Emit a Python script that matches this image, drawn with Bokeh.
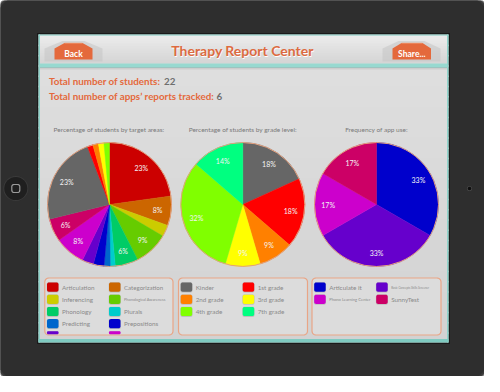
import numpy as np
from bokeh.plotting import figure
from bokeh.models import ColumnDataSource, Range1d
from bokeh.core.properties import value
from bokeh.embed import file_html
from bokeh.resources import INLINE

# ---------------- data ----------------
header_title = "Therapy Report Center"
back_label = "Back"
share_label = "Share..."
summary_labels = ["Total number of students:", "Total number of apps\u2019 reports tracked:"]
summary_values = ["22", "6"]
chart_titles = ["Percentage of students by target areas:",
                "Percentage of students by grade level:",
                "Frequency of app use:"]

target_areas = ["Articulation", "Categorization", "Inferencing", "Phonological Awareness",
                "Phonology", "Plurals", "Predicting", "Prepositions", "Pronouns",
                "Social Skills", "Syntax", "Vocabulary", "Voice", "WH Questions",
                "Word Finding", "Writing"]
target_pct = [22.8, 7.7, 3.0, 9.0, 6.0, 1.3, 1.6, 2.8, 3.0, 8.0, 6.0, 23.0, 1.45, 1.45, 1.45, 1.45]
target_colors = ["#cc0000", "#cc6600", "#cccc00", "#66cc00", "#00cc66", "#00cccc", "#0066cc",
                 "#0000cc", "#6600cc", "#cc00cc", "#cc0066", "#666666", "#ff0000", "#ff8000",
                 "#ffff00", "#80ff00"]

grade_levels = ["Kinder", "1st grade", "2nd grade", "3rd grade", "4th grade", "7th grade"]
grade_counts = [4, 4, 2, 2, 7, 3]
grade_colors = ["#666666", "#ff0000", "#ff8000", "#ffff00", "#80ff00", "#00ff80"]

apps = ["Articulate it", "Basic Concepts Skills Screener", "Phono Learning Center", "SunnyTest"]
app_counts = [2, 2, 1, 1]
app_colors = ["#0000cc", "#6600cc", "#cc00cc", "#cc0066"]

# ---------------- helpers ----------------
FONT = "Lato"
ORANGE = "#e4693c"


def fy(y):
    return 392 - y


p = figure(width=484, height=376, x_range=Range1d(8, 492), y_range=Range1d(8, 384),
           output_backend="svg", toolbar_location=None, x_axis_location=None,
           y_axis_location=None, min_border=0, outline_line_color=None,
           background_fill_color="white", border_fill_color="white")
p.grid.visible = False


def rrect(x0, y0, x1, y1, r, n=10):
    xs, ys = [], []
    corners = [(x1 - r, y0 + r, -90, 0), (x1 - r, y1 - r, 0, 90),
               (x0 + r, y1 - r, 90, 180), (x0 + r, y0 + r, 180, 270)]
    for cx, cy, a0, a1 in corners:
        for a in np.linspace(np.radians(a0), np.radians(a1), n):
            xs.append(cx + r * np.cos(a))
            ys.append(fy(cy + r * np.sin(a)))
    return xs, ys


def draw_rrect(x0, y0, x1, y1, r, fill, line=None, lw=1, alpha=1.0):
    xs, ys = rrect(x0, y0, x1, y1, r)
    p.patch(xs, ys, fill_color=fill, fill_alpha=alpha, line_color=line,
            line_width=lw)


def hexrgb(c):
    c = c.lstrip("#")
    return [int(c[i:i + 2], 16) for i in (0, 2, 4)]


def mix(c0, c1, t):
    a, b = hexrgb(c0), hexrgb(c1)
    return "#%02x%02x%02x" % tuple(int(round(a[i] + (b[i] - a[i]) * t)) for i in range(3))


def vgrad(x0, x1, y0, y1, c0, c1, n=24):
    edges = np.linspace(y0, y1, n + 1)
    cols = [mix(c0, c1, (i + 0.5) / n) for i in range(n)]
    bots = [min(v + 1.5, y1) for v in edges[1:]]
    p.quad(left=x0, right=x1, top=[fy(v) for v in edges[:-1]],
           bottom=[fy(v) for v in bots], fill_color=cols, line_color=None)


def label(x, y, t, size, color, align="left", bold=False, font=FONT):
    p.text(x=[x], y=[fy(y)], text=[t], text_font=value(font),
           text_font_size=value(f"{size}px"), text_color=color, text_align=align,
           text_baseline="middle", text_font_style="bold" if bold else "normal")


# ---------------- iPad body ----------------
draw_rrect(0, 0, 500, 392, 30, "#6a6a6a")
draw_rrect(1.2, 1.2, 498.8, 390.8, 29, "#3a3a3a")
draw_rrect(3, 3, 497, 389, 27, "#2e2e2e")

# home button
p.circle(x=23.3, y=fy(196), radius=12.5, fill_color="#3a3a3a", line_color=None)
p.circle(x=23.3, y=fy(196), radius=11.5, fill_color="#1f1f1f", line_color=None)
hx, hy = rrect(19.3, 192, 27.3, 200, 2.2)
p.patch(hx, hy, fill_color=None, line_color="#9a9a9a", line_width=1.2)
# camera
p.circle(x=477, y=fy(196), radius=2.6, fill_color="#444444", line_color=None)
p.circle(x=477, y=fy(196), radius=1.8, fill_color="#0e0e0e", line_color=None)

# ---------------- screen ----------------
p.quad(left=44.5, right=457.5, top=fy(40.5), bottom=fy(351.5), fill_color="#1a1a1a",
       line_color=None)
vgrad(46, 456, 42, 350, "#e0e0e0", "#d2d2d2", n=30)
# teal borders
p.quad(left=46, right=456, top=fy(42), bottom=fy(43.3), fill_color="#8fd4cb", line_color=None)
p.quad(left=46, right=47.5, top=fy(42), bottom=fy(350), fill_color="#8fd4cb", line_color=None)
p.quad(left=454.5, right=456, top=fy(42), bottom=fy(350), fill_color="#8fd4cb", line_color=None)
p.quad(left=46, right=456, top=fy(346.5), bottom=fy(350), fill_color="#7fcbc1", line_color=None)

# header
vgrad(47.5, 454.5, 43.3, 71, "#ececec", "#d4d4d4", n=16)
p.quad(left=47.5, right=454.5, top=fy(71), bottom=fy(74.5), fill_color="#97d9d0", line_color=None)
p.quad(left=47.5, right=454.5, top=fy(74.5), bottom=fy(75.3), fill_color="#6fb7ae", line_color=None)
p.quad(left=47.5, right=454.5, top=fy(75.3), bottom=fy(77), fill_color="#cdcdcd", line_color=None)


def house(x0, x1, r0, r1, ytop, yshoulder, ybottom, fill, alpha=1.0):
    xs = [x0, x0, r0, r1, x1, x1]
    ys = [ybottom, yshoulder, ytop, ytop, yshoulder, ybottom]
    p.patch(xs, [fy(v) for v in ys], fill_color=fill, fill_alpha=alpha, line_color=None)


# buttons (shadow + body)
house(52, 110, 70, 92, 48.5, 56, 69, "#c4c4c4", 0.55)
house(62, 100, 72, 90, 50.5, 56, 67, ORANGE)
p.line([72, 90], [fy(50.7), fy(50.7)], line_color="#f19a74", line_width=0.8)
label(81, 61.5, back_label, 8.5, "#ffffff", align="center", bold=True)

house(390, 448, 406, 432, 48.5, 56, 69, "#c4c4c4", 0.55)
house(400, 438.5, 409, 430, 50.5, 56, 67, ORANGE)
p.line([409, 430], [fy(50.7), fy(50.7)], line_color="#f19a74", line_width=0.8)
label(419.3, 61.5, share_label, 8.5, "#ffffff", align="center", bold=True)

# title
label(250.5, 58.8, header_title, 14, "#ffffff", align="center", bold=True)
label(250, 58.3, header_title, 14, "#dd6a40", align="center", bold=True)

# summary lines
label(56.5, 88.5, summary_labels[0], 9.8, ORANGE, bold=True)
label(171.5, 88.5, summary_values[0], 9.8, "#6e6e6e", bold=True)
label(56.5, 103.8, summary_labels[1], 9.8, ORANGE, bold=True)
label(224.0, 103.8, summary_values[1], 9.8, "#6e6e6e", bold=True)

# chart titles
title_x = [116.5, 250.3, 384]
for tx, tt in zip(title_x, chart_titles):
    label(tx, 136.5, tt, 6.5, "#7a7a7a", align="center")


# ---------------- pies ----------------
def pie(cx, cy, r, vals, colors, show_min):
    vals = np.asarray(vals, dtype=float)
    frac = vals / vals.sum()
    cum = np.concatenate([[0.0], np.cumsum(frac)])
    start = np.pi / 2 - 2 * np.pi * cum[:-1]
    end = np.pi / 2 - 2 * np.pi * cum[1:]
    src = ColumnDataSource(dict(start=start, end=end, color=colors))
    p.wedge(x=cx, y=fy(cy), radius=r, start_angle="start", end_angle="end",
            direction="clock", fill_color="color", line_color="color", line_width=0.4,
            source=src)
    p.circle(x=cx, y=fy(cy), radius=r, fill_color=None, line_color="#e3a07e", line_width=1)
    mid = np.pi / 2 - np.pi * (cum[:-1] + cum[1:])
    pct = np.round(frac * 100).astype(int)
    mask = frac * 100 >= show_min
    lx = cx + 0.78 * r * np.cos(mid)
    ly = fy(cy) + 0.78 * r * np.sin(mid)
    p.text(x=lx[mask], y=ly[mask], text=[f"{v}%" for v in pct[mask]],
           text_font=value(FONT), text_font_size=value("7px"), text_color="#f4f4f4",
           text_align="center", text_baseline="middle")


pie(117, 212, 62, target_pct, target_colors, 5)
pie(250.3, 212, 62, grade_counts, grade_colors, 5)
pie(384, 212, 62, app_counts, app_colors, 5)


# ---------------- legends ----------------
def legend(x0, x1, labels, colors, y_top=285.5, y_bot=342.5):
    draw_rrect(x0, y_top, x1, y_bot, 4, "#dcdcdc", line="#e9a586", lw=1.2)
    tx, ty, tt, fs = [], [], [], []
    for i, (lab, col) in enumerate(zip(labels, colors)):
        row, colno = divmod(i, 2)
        left = x0 + 2.2 + 62 * colno
        top = y_top + 4.5 + 12.2 * row
        bot = top + 9.2
        if top >= y_bot - 1:
            continue
        clipped = bot > y_bot - 0.8
        bot = min(bot, y_bot - 0.8)
        xs, ys = rrect(left - 0.3, top - 0.2, left + 11.8, bot + (0.8 if not clipped else 0), 2)
        p.patch(xs, ys, fill_color="#a8a8a8", fill_alpha=0.6, line_color=None)
        xs, ys = rrect(left, top, left + 11.5, bot, 2 if not clipped else 1)
        p.patch(xs, ys, fill_color=col, line_color=None)
        if not clipped:
            tx.append(left + 15)
            ty.append(fy((top + bot) / 2 + 0.2))
            tt.append(lab)
            fs.append("%.2fpx" % min(6.3, 43.0 / (0.5 * len(lab))))
    src = ColumnDataSource(dict(x=tx, y=ty, t=tt, fs=fs))
    p.text(x="x", y="y", text="t", text_font_size="fs", source=src,
           text_font=value(FONT), text_color="#8a8a8a", text_baseline="middle")


legend(52.3, 180.5, target_areas, target_colors)
legend(186, 315, grade_levels, grade_colors)
legend(319.5, 448.5, apps, app_colors)

open("out.html", "w").write(file_html(p, INLINE))
